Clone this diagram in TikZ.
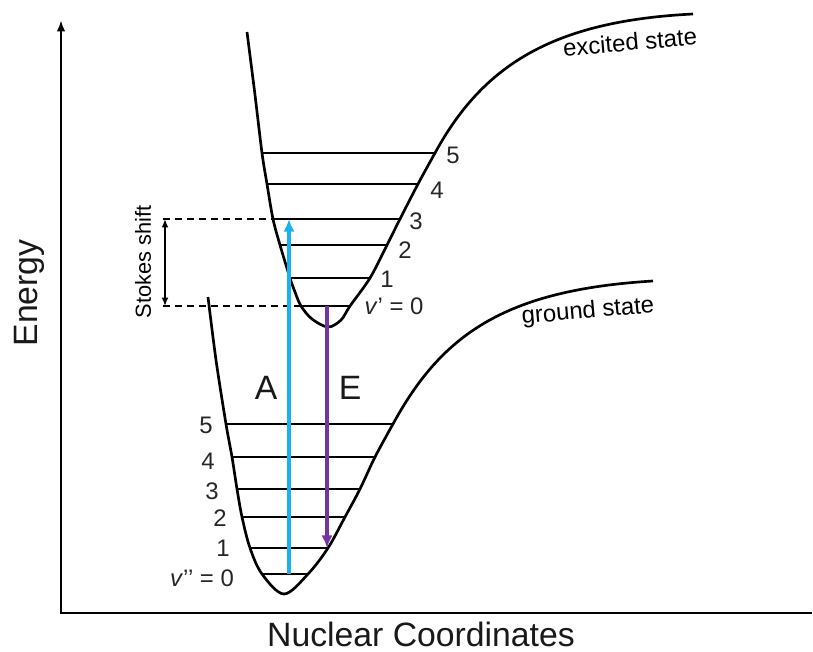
\documentclass[tikz,border=0pt]{standalone}
\usepackage{fontspec}
\setmainfont{Liberation Sans}
\usetikzlibrary{arrows.meta}
\definecolor{absblue}{HTML}{1AB2EA}
\definecolor{emitpurple}{HTML}{7434A4}
\tikzset{
  axisline/.style={line width=2pt},
  pes/.style={line width=1.9pt},
  vlevel/.style={line width=2pt},
  absorb/.style={-{Latex[length=9pt,width=8pt]},line width=2.8pt,absblue},
  emit/.style={-{Latex[length=9pt,width=8pt]},line width=2.8pt,emitpurple},
  guide/.style={line width=1pt,dash pattern=on 5pt off 3.5pt},
  shiftarrow/.style={{Latex[length=6pt,width=5pt]}-{Latex[length=6pt,width=5pt]},line width=1.3pt},
  vlabel/.style={font=\fontsize{17}{17}\selectfont,inner sep=0pt,text=black!85},
  axislabel/.style={font=\fontsize{24}{24}\selectfont,inner sep=0pt,text=black!90},
  statelabel/.style={font=\fontsize{17}{17}\selectfont,inner sep=0pt,rotate=5},
  shiftlabel/.style={font=\fontsize{15.5}{15.5}\selectfont,inner sep=0pt,rotate=90}
}
\begin{document}
\begin{tikzpicture}[x=0.025cm,y=-0.025cm]
  \useasboundingbox (0,0) rectangle (813,651);
  % axes
  \coordinate (origin) at (61,613);
  \coordinate (ytip) at (61,20);
  \coordinate (xend) at (812,613);
  \draw[axisline,-{Latex[length=8pt,width=6pt]}] (xend) -- (origin) -- (ytip);
  \node[axislabel] (xlab) at (421,634) {Nuclear Coordinates};
  \node[axislabel,rotate=90] (ylab) at (29,293) {Energy};

  % ground state
  \draw[pes] plot[smooth,tension=0.55] coordinates {(208,297) (216,360) (226,424) (232,457) (237,489)
    (242,517) (250,548) (262,574) (284,594) (308,574) (328,548) (345,517) (360,489) (375,457)
    (393,424)} .. controls (441,336) and (503,290) .. (653,281);
  \draw[vlevel] (226,424) -- (393,424);
  \draw[vlevel] (232,457) -- (375,457);
  \draw[vlevel] (237,489) -- (360,489);
  \draw[vlevel] (242,517) -- (345,517);
  \draw[vlevel] (250,548) -- (328,548);
  \draw[vlevel] (262,574) -- (308,574);
  \node[vlabel] (g5) at (206,425) {5};
  \node[vlabel] (g4) at (208,461) {4};
  \node[vlabel] (g3) at (212,491) {3};
  \node[vlabel] (g2) at (220,518) {2};
  \node[vlabel] (g1) at (223,548) {1};
  \node[vlabel] (g0) at (202,578) {\textit{v}’’ = 0};
  \node[statelabel] (gslab) at (588,312) {ground state};

  % excited state
  \draw[pes] plot[smooth,tension=0.55] coordinates {(247,32) (255,95) (262,153) (267,184) (273,219)
    (280,245) (290,278) (295,292) (301,306) (312,319) (328,327) (341,320) (350,306) (370,278)
    (387,245) (400,219) (418,184) (435,153)} .. controls (483,65) and (553,21) .. (693,14);
  \draw[vlevel] (262,153) -- (435,153);
  \draw[vlevel] (267,184) -- (418,184);
  \draw[vlevel] (273,219) -- (400,219);
  \draw[vlevel] (280,245) -- (387,245);
  \draw[vlevel] (290,278) -- (370,278);
  \draw[vlevel] (301,306) -- (350,306);
  \node[vlabel] (e5) at (453,155) {5};
  \node[vlabel] (e4) at (437,190) {4};
  \node[vlabel] (e3) at (416,221) {3};
  \node[vlabel] (e2) at (405,250) {2};
  \node[vlabel] (e1) at (387,279) {1};
  \node[vlabel] (e0) at (394,306) {\textit{v}’ = 0};
  \node[statelabel] (exlab) at (630,42) {excited state};

  % stokes shift
  \coordinate (sstop) at (165,219);
  \coordinate (ssbot) at (165,306);
  \draw[guide] (163,219) -- (273,219);
  \draw[guide] (163,306) -- (301,306);
  \draw[shiftarrow] (sstop) -- (ssbot);
  \node[shiftlabel] (stokes) at (143,262) {Stokes shift};

  % transitions
  \coordinate (absfrom) at (289,574);
  \coordinate (absto) at (289,219);
  \coordinate (emfrom) at (327,306);
  \coordinate (emto) at (327,548);
  \draw[absorb] (absfrom) -- (absto);
  \draw[emit] (emfrom) -- (emto);
  \node[axislabel] (alab) at (266,388) {A};
  \node[axislabel] (elab) at (350,388) {E};
\end{tikzpicture}
\end{document}
